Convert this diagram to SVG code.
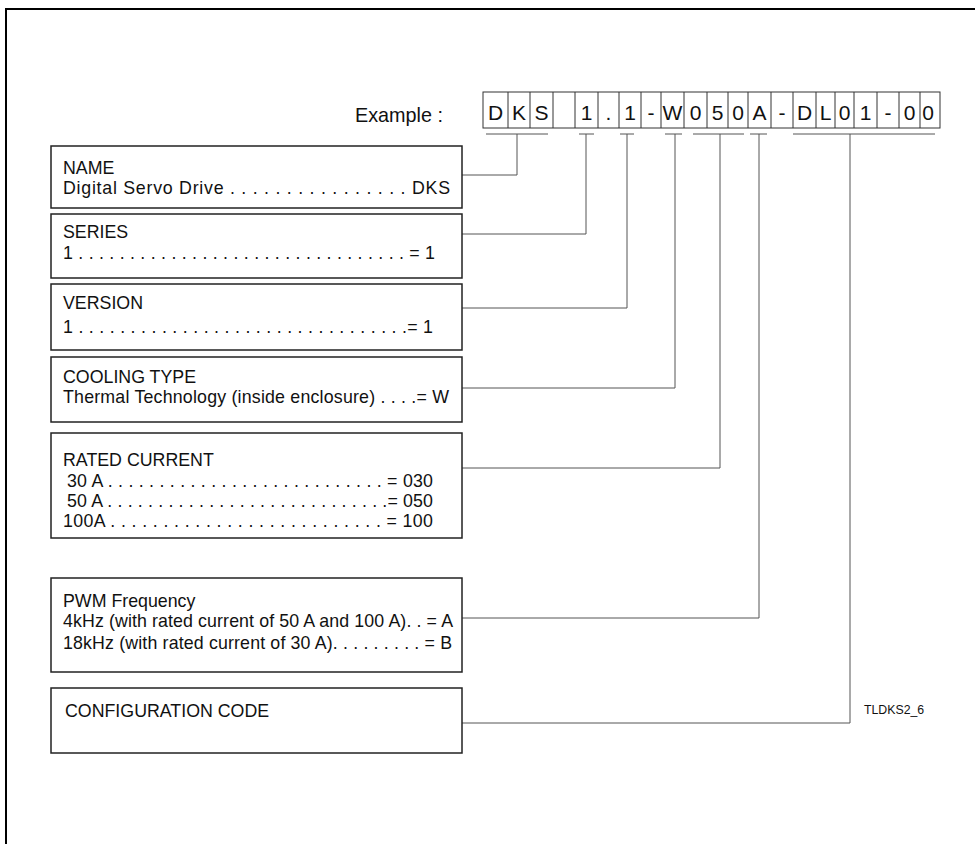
<svg xmlns="http://www.w3.org/2000/svg" width="975" height="844" viewBox="0 0 975 844">
<style>
text{font-family:"Liberation Sans",Arial,sans-serif;fill:#111}
.box{fill:#fff;stroke:#222;stroke-width:1.5}
.t{font-size:17.8px}
.cell{fill:none;stroke:#333;stroke-width:1}
.ct{font-size:21px;text-anchor:middle}
.con{fill:none;stroke:#555;stroke-width:1}
</style>
<rect width="975" height="844" fill="#fff"/>
<path d="M6 850 V9 H980" fill="none" stroke="#000" stroke-width="2"/>
<text x="355" y="122" font-size="19.8">Example :</text>
<g id="code">
<rect class="cell" x="483" y="92" width="457" height="36"/>
<path class="cell" d="M508 92V128M530 92V128M553 92V128M575 92V128M598 92V128M619 92V128M641 92V128M661 92V128M684 92V128M707 92V128M728 92V128M748 92V128M771 92V128M793 92V128M816 92V128M835 92V128M854 92V128M877 92V128M899 92V128M920 92V128"/>
<text class="ct" x="495.5" y="120">D</text>
<text class="ct" x="519" y="120">K</text>
<text class="ct" x="541.5" y="120">S</text>
<text class="ct" x="586.5" y="120">1</text>
<text class="ct" x="608.5" y="120">.</text>
<text class="ct" x="630" y="120">1</text>
<text class="ct" x="651" y="120">-</text>
<text class="ct" x="672.5" y="120">W</text>
<text class="ct" x="695.5" y="120">0</text>
<text class="ct" x="717.5" y="120">5</text>
<text class="ct" x="738" y="120">0</text>
<text class="ct" x="759.5" y="120">A</text>
<text class="ct" x="782" y="120">-</text>
<text class="ct" x="804.5" y="120">D</text>
<text class="ct" x="825.5" y="120">L</text>
<text class="ct" x="844.5" y="120">0</text>
<text class="ct" x="865.5" y="120">1</text>
<text class="ct" x="888" y="120">-</text>
<text class="ct" x="909.5" y="120">0</text>
<text class="ct" x="928" y="120">0</text>
</g>
<g id="connectors">
<path class="con" d="M486 134H548M517 134V175H462"/>
<path class="con" d="M579 134H594M586 134V234H462"/>
<path class="con" d="M620 134H634M627 134V308H462"/>
<path class="con" d="M665 134H682M675 134V388H462"/>
<path class="con" d="M693 134H744M720 134V468H462"/>
<path class="con" d="M750 134H767M759 134V618H462"/>
<path class="con" d="M793 134H935M850 134V723H462"/>
</g>
<g id="name">
<rect class="box" x="51" y="146" width="411" height="62"/>
<text class="t" x="63" y="174">NAME</text>
<text class="t" x="63" y="194" textLength="387" lengthAdjust="spacing">Digital Servo Drive . .  . . . . . . . . . . . . . .  DKS</text>
</g>
<g id="series">
<rect class="box" x="51" y="214" width="411" height="64"/>
<text class="t" x="63" y="238">SERIES</text>
<text class="t" x="63" y="259" textLength="372" lengthAdjust="spacing">1 . . . . . . . . . . . . . .  . . . . . . . . . . . . . . . . . . = 1</text>
</g>
<g id="version">
<rect class="box" x="51" y="284" width="411" height="66"/>
<text class="t" x="63" y="309">VERSION</text>
<text class="t" x="63" y="333" textLength="370" lengthAdjust="spacing">1 . . . . . . . . . . . . . .  . . . . . . . . . . . . . . . . . .= 1</text>
</g>
<g id="cooling">
<rect class="box" x="51" y="357" width="411" height="65"/>
<text class="t" x="63" y="383">COOLING TYPE</text>
<text class="t" x="63" y="403" textLength="386" lengthAdjust="spacing">Thermal Technology (inside enclosure) . . . .= W</text>
</g>
<g id="rated">
<rect class="box" x="51" y="433" width="411" height="105"/>
<text class="t" x="63" y="466">RATED CURRENT</text>
<text class="t" x="67" y="487" textLength="366" lengthAdjust="spacing">30 A . . . . . . . . . . . . . . . . . . . . . . . . . . .  = 030</text>
<text class="t" x="67" y="507" textLength="366" lengthAdjust="spacing">50 A . . . . . . . . . . . . . . . . . . . . . . . . . . . .= 050</text>
<text class="t" x="63" y="527" textLength="370" lengthAdjust="spacing">100A . . . . . . . . . . . . . . . . . . . . . . . . . .  = 100</text>
</g>
<g id="pwm">
<rect class="box" x="51" y="578" width="411" height="94"/>
<text class="t" x="63" y="607">PWM Frequency</text>
<text class="t" x="63" y="627" textLength="390" lengthAdjust="spacing">4kHz (with rated current of 50 A and 100 A). . = A</text>
<text class="t" x="63" y="649" textLength="389" lengthAdjust="spacing">18kHz (with rated current of 30 A). . . . . . . . .  = B</text>
</g>
<g id="config">
<rect class="box" x="51" y="688" width="411" height="65"/>
<text class="t" x="65" y="717">CONFIGURATION CODE</text>
</g>
<text x="864" y="714" font-size="12.3">TLDKS2_6</text>
</svg>
